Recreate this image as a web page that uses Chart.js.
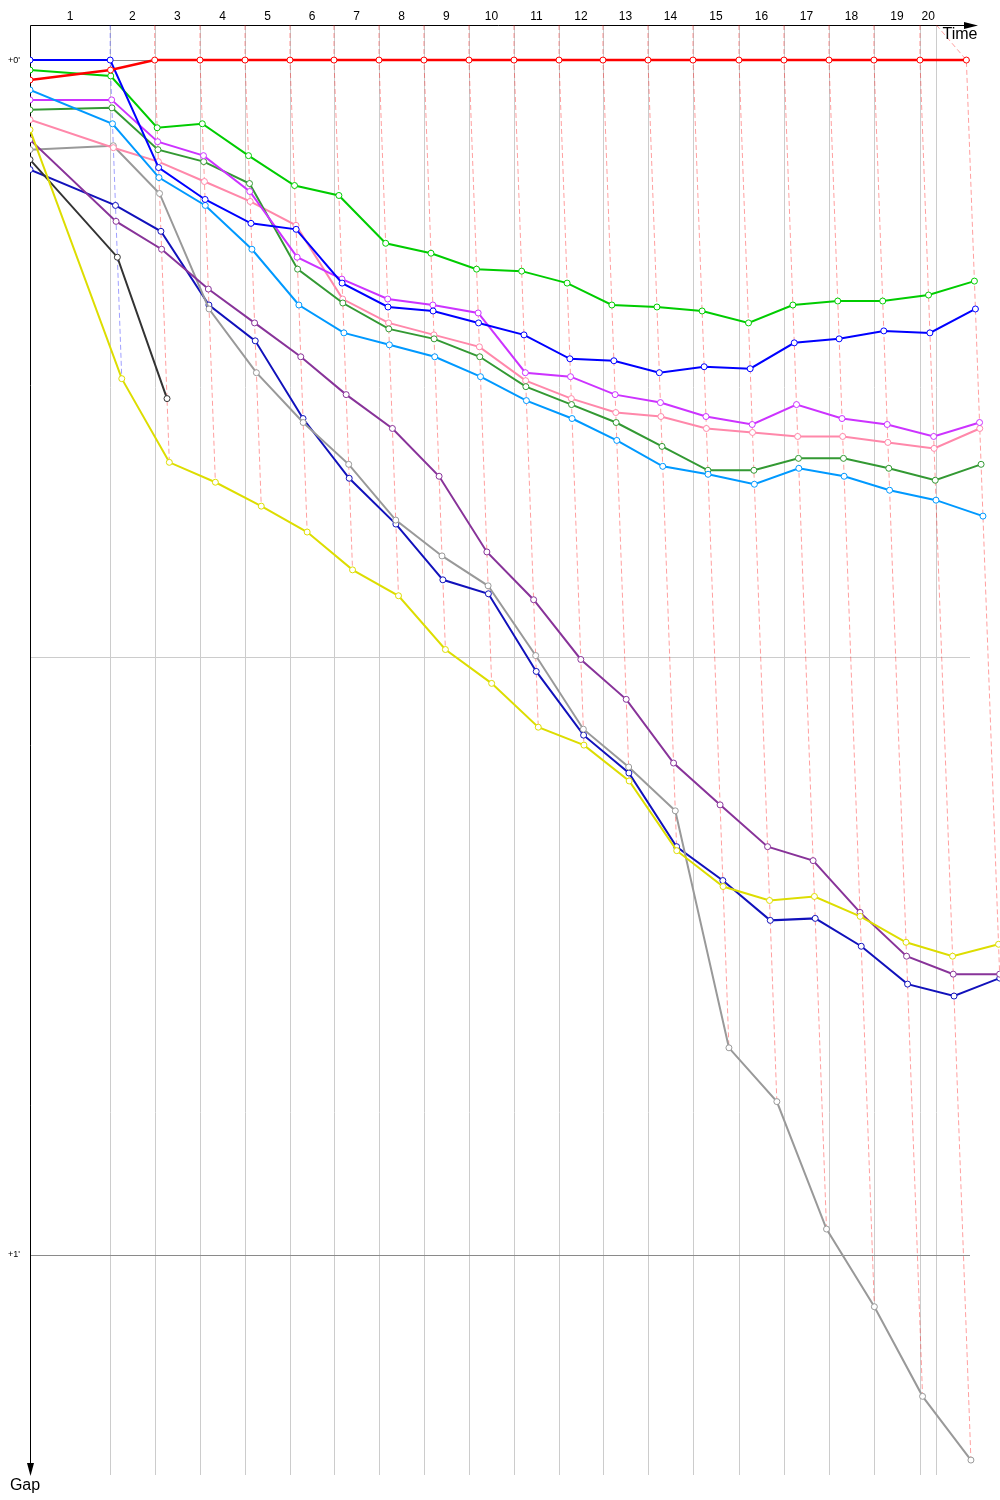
<!DOCTYPE html>
<html>
<head>
<meta charset="utf-8">
<title>Gap chart</title>
<script src="https://cdn.jsdelivr.net/npm/chart.js@4.4.0/dist/chart.umd.min.js"></script>
<style>
  html, body { margin: 0; padding: 0; background: #fff; }
  #wrap { position: relative; width: 1000px; height: 1500px; }
</style>
</head>
<body>
<div id="wrap"><canvas id="gapChart"></canvas></div>
<script>
// lap numbers written along the time axis
const lapLabels = ['1', '2', '3', '4', '5', '6', '7', '8', '9', '10',
                   '11', '12', '13', '14', '15', '16', '17', '18', '19', '20'];

// leader's race time (s) when crossing the line, index 0 = start
const leaderTimes = [0, 110.6, 172.0, 234.5, 296.6, 358.6, 419.3, 481.4, 543.4, 605.5, 667.6,
                     729.7, 790.3, 852.4, 914.5, 977.9, 1040.0, 1102.1, 1164.1, 1227.6, 1291.6];
const finishTime = 1250.2;

// gap ticks (s)
const gapTicks = [0, 30, 60];
const gapTickLabels = ["+0'", '', "+1'"];

// gap to the leader (s) at each crossing, index 0 = grid
const blueGaps    = [0, 0, 5.4, 7.0, 8.2, 8.5, 11.2, 12.4, 12.6, 13.2, 13.8, 15.0, 15.1, 15.7, 15.4, 15.5, 14.2, 14.0, 13.6, 13.7, 12.5];
const greenGaps   = [0.5, 0.8, 3.4, 3.2, 4.8, 6.3, 6.8, 9.2, 9.7, 10.5, 10.6, 11.2, 12.3, 12.4, 12.6, 13.2, 12.3, 12.1, 12.1, 11.8, 11.1];
const redGaps     = [1.0, 0.5, 0, 0, 0, 0, 0, 0, 0, 0, 0, 0, 0, 0, 0, 0, 0, 0, 0, 0, 0];
const skyGaps     = [1.5, 3.2, 5.9, 7.3, 9.5, 12.3, 13.7, 14.3, 14.9, 15.9, 17.1, 18.0, 19.1, 20.4, 20.8, 21.3, 20.5, 20.9, 21.6, 22.1, 22.9];
const magentaGaps = [2.0, 2.0, 4.1, 4.8, 6.6, 9.9, 11.0, 12.0, 12.3, 12.7, 15.7, 15.9, 16.8, 17.2, 17.9, 18.3, 17.3, 18.0, 18.3, 18.9, 18.2];
const forestGaps  = [2.5, 2.4, 4.5, 5.1, 6.2, 10.5, 12.2, 13.5, 14.0, 14.9, 16.4, 17.3, 18.2, 19.4, 20.6, 20.6, 20.0, 20.0, 20.5, 21.1, 20.3];
const pinkGaps    = [3.0, 4.4, 5.1, 6.1, 7.1, 8.3, 12.0, 13.2, 13.8, 14.4, 16.1, 17.0, 17.7, 17.9, 18.5, 18.7, 18.9, 18.9, 19.2, 19.5, 18.5];
const yellowGaps  = [3.5, 16.0, 20.2, 21.2, 22.4, 23.7, 25.6, 26.9, 29.6, 31.3, 33.5, 34.4, 36.2, 39.7, 41.5, 42.2, 42.0, 43.0, 44.3, 45.0, 44.4];
const purpleGaps  = [4.0, 8.1, 9.5, 11.5, 13.2, 14.9, 16.8, 18.5, 20.9, 24.7, 27.1, 30.1, 32.1, 35.3, 37.4, 39.5, 40.2, 42.8, 45.0, 45.9, 45.9];
const greyGaps    = [4.5, 4.3, 6.7, 12.5, 15.7, 18.2, 20.3, 23.1, 24.9, 26.4, 29.9, 33.6, 35.5, 37.7, 49.6, 52.3, 58.7, 62.6, 67.1, 70.3];
const blackGaps   = [5.0, 9.9, 17.0];
const navyGaps    = [5.5, 7.3, 8.6, 12.3, 14.1, 18.0, 21.0, 23.3, 26.1, 26.8, 30.7, 33.9, 35.8, 39.5, 41.2, 43.2, 43.1, 44.5, 46.4, 47.0, 46.1];

const driverGaps = [blueGaps, greenGaps, redGaps, skyGaps, magentaGaps, forestGaps,
                    pinkGaps, yellowGaps, purpleGaps, greyGaps, blackGaps, navyGaps];
const driverColors = ['#0000ff', '#00cc00', '#ff0000', '#0099ff', '#cc33ff', '#339933',
                      '#ff88aa', '#dddd00', '#883399', '#999999', '#333333', '#1111bb'];

// axis ranges
const timeMax = 1338;
const gapMin = -1.76;
const gapMax = 71.05;

function fade(hex, a) {
    const n = parseInt(hex.slice(1), 16);
    return `rgba(${(n >> 16) & 255}, ${(n >> 8) & 255}, ${n & 255}, ${a})`;
}

// each crossing sits at leader time + gap
const driverPoints = driverGaps.map(gaps =>
    gaps.map((g, lap) => ({ x: lap === 0 ? 0 : leaderTimes[lap] + g, y: g })));

// gray marks on the time axis
const lapMarks = leaderTimes.slice(1, lapLabels.length).concat(finishTime);

// dashed line joining every car's crossing of the same lap
const lapLines = lapLabels.map((_, i) => {
    const lap = i + 1;
    const pts = [];
    driverPoints.forEach(p => { if (p[lap]) pts.push(p[lap]); });
    pts.sort((a, b) => a.y - b.y);
    const leader = driverGaps.findIndex(g => g[lap] === 0);
    return {
        data: [{ x: lapMarks[i], y: gapMin }].concat(pts),
        showLine: true,
        borderColor: fade(driverColors[leader], 0.38),
        borderWidth: 1,
        borderDash: [5, 3],
        pointRadius: 0,
        order: 5,
    };
});

const driverSets = driverPoints.map((pts, i) => ({
    label: 'car ' + (i + 1),
    data: pts,
    showLine: true,
    borderColor: driverColors[i],
    borderWidth: i === 2 ? 2.5 : 2,
    pointRadius: 3,
    pointBorderWidth: 1,
    pointBorderColor: driverColors[i],
    pointBackgroundColor: '#ffffff',
    order: i === 2 ? 0 : 1,
}));

// Axes, grid and labels drawn around the plot
const gapChartDecor = {
    id: 'gapChartDecor',
    beforeDatasetsDraw(chart) {
        const { ctx, chartArea: a, scales: { x, y } } = chart;
        ctx.save();
        ctx.lineWidth = 1;

        ctx.strokeStyle = '#cccccc';
        lapMarks.forEach(t => {
            const px = Math.round(x.getPixelForValue(t)) + 0.5;
            ctx.beginPath();
            ctx.moveTo(px, a.top);
            ctx.lineTo(px, a.bottom);
            ctx.stroke();
        });

        gapTicks.forEach((g, i) => {
            const py = Math.round(y.getPixelForValue(g)) + 0.5;
            ctx.strokeStyle = gapTickLabels[i] ? '#8a8a8a' : '#cccccc';
            ctx.beginPath();
            ctx.moveTo(a.left, py);
            ctx.lineTo(970, py);
            ctx.stroke();
        });

        // time axis on top, gap axis down the left
        ctx.strokeStyle = '#000';
        ctx.fillStyle = '#000';
        const top = a.top + 0.5;
        const left = a.left + 0.5;
        ctx.beginPath();
        ctx.moveTo(left, top);
        ctx.lineTo(966, top);
        ctx.moveTo(left, top);
        ctx.lineTo(left, a.bottom - 10);
        ctx.stroke();

        ctx.beginPath();
        ctx.moveTo(964, top - 3.5);
        ctx.lineTo(978, top);
        ctx.lineTo(964, top + 3.5);
        ctx.closePath();
        ctx.fill();

        ctx.beginPath();
        ctx.moveTo(left - 3.5, a.bottom - 12);
        ctx.lineTo(left, a.bottom + 1);
        ctx.lineTo(left + 3.5, a.bottom - 12);
        ctx.closePath();
        ctx.fill();
        ctx.restore();
    },
    afterDraw(chart) {
        const { ctx, chartArea: a, scales: { x, y } } = chart;
        ctx.save();
        ctx.fillStyle = '#000';
        ctx.textAlign = 'center';
        ctx.textBaseline = 'middle';

        ctx.font = '12px "Liberation Sans", Arial, sans-serif';
        lapLabels.forEach((lbl, i) => {
            const from = i === 0 ? 0 : lapMarks[i - 1];
            const mid = (x.getPixelForValue(from) + x.getPixelForValue(lapMarks[i])) / 2;
            ctx.fillText(lbl, mid, 17);
        });

        ctx.font = '9px "Liberation Sans", Arial, sans-serif';
        ctx.textAlign = 'left';
        gapTicks.forEach((g, i) => {
            if (gapTickLabels[i]) ctx.fillText(gapTickLabels[i], 8, y.getPixelForValue(g));
        });

        ctx.font = '16px "Liberation Sans", Arial, sans-serif';
        ctx.textAlign = 'center';
        ctx.fillText('Time', 960, 35);
        ctx.fillText('Gap', 25, 1486);
        ctx.restore();
    }
};

const ctx = document.getElementById('gapChart').getContext('2d');
new Chart(ctx, {
    type: 'scatter',
    data: {
        datasets: lapLines.concat(driverSets)
    },
    options: {
        responsive: true,
        maintainAspectRatio: false,
        animation: false,
        layout: {
            autoPadding: false,
            padding: { left: 30, top: 25, right: 0, bottom: 25 }
        },
        elements: {
            line: { tension: 0 }
        },
        plugins: {
            legend: { display: false },
            tooltip: { enabled: false },
        },
        scales: {
            x: { type: 'linear', display: false, min: 0, max: timeMax },
            y: { type: 'linear', display: false, reverse: true, min: gapMin, max: gapMax }
        }
    },
    plugins: [gapChartDecor]
});
</script>
</body>
</html>
